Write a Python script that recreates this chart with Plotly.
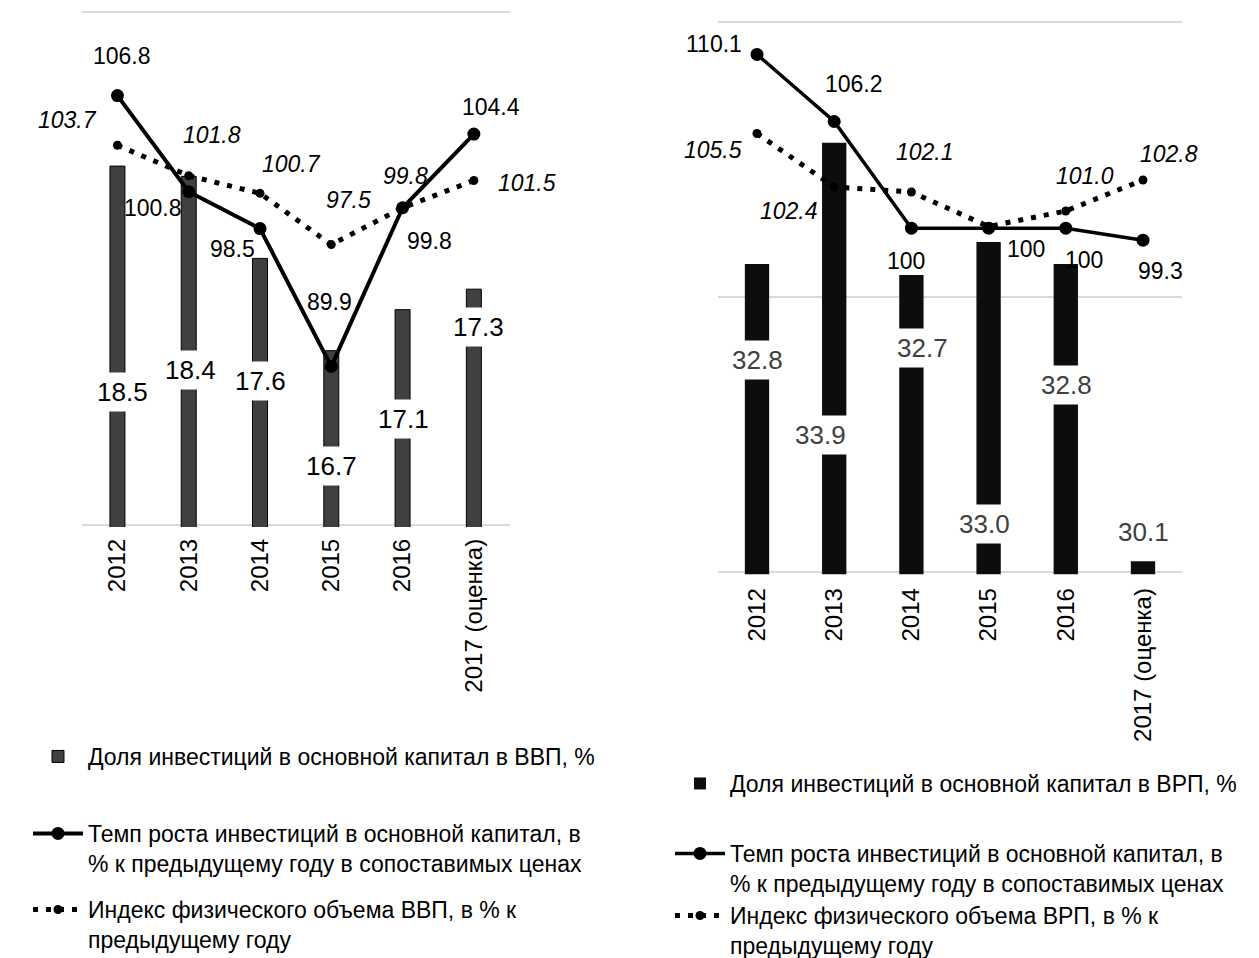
import plotly.graph_objects as go

# ---------------- data ----------------
years = ["2012", "2013", "2014", "2015", "2016", "2017 (оценка)"]

# left panel (Russia)
share_gdp = [18.5, 18.4, 17.6, 16.7, 17.1, 17.3]
inv_growth_rf = [106.8, 100.8, 98.5, 89.9, 99.8, 104.4]
gdp_index = [103.7, 101.8, 100.7, 97.5, 99.8, 101.5]

# right panel (region)
share_grp = [32.8, 33.9, 32.7, 33.0, 32.8, 30.1]
inv_growth_reg = [110.1, 106.2, 100, 100, 100, 99.3]
grp_index = [105.5, 102.4, 102.1, 100.1, 101.0, 102.8]
grp_index_labels = ["105.5", "102.4", "102.1", None, "101.0", "102.8"]

name_bar_l = "Доля инвестиций в основной капитал в ВВП, %"
name_bar_r = "Доля инвестиций в основной капитал в ВРП, %"
name_inv = "Темп роста инвестиций в основной капитал, в<br>% к предыдущему году в сопоставимых ценах"
name_idx_l = "Индекс физического объема ВВП, в % к<br>предыдущему году"
name_idx_r = "Индекс физического объема ВРП, в % к<br>предыдущему году"

# ---------------- label placement (style, px offsets) ----------------
inv_l_off = [(5, -40), (-36, 16), (-28, 20), (-2, -64), (27, 33), (17, -27)]
idx_l_off = [(-50, -25), (23, -41), (31, -29), (17, -45), (3, -32), (53, 2)]
bar_l_lab_y = [16.30, 16.51, 16.40, 15.575, 16.03, 16.93]
bar_l_lab_dx = [5, 2, 0, 0, 1, 5]

inv_r_off = [(-43, -10), (20, -37), (-5, 33), (37, 21), (18, 32), (17, 31)]
idx_r_off = [(-44, 16), (-45, 24), (14, -40), (0, 0), (19, -35), (26, -26)]
bar_r_lab_y = [31.93, 31.25, 32.04, 30.44, 31.70, 30.37]
bar_r_lab_dx = [0, -14, 11, -4, 1, 0]

W, H = 1259, 958
FONT = "Liberation Sans, Arial, sans-serif"
PAD = 2  # px of headroom so edge gridlines are drawn

# panel geometry in px (left, right, top, bottom)
L_BOX = (81.8, 509.5, 12.3, 525.0)
R_BOX = (718.4, 1181.6, 21.7, 572.3)


def padded(lo, hi, box):
    per_px = (hi - lo) / (box[3] - box[2])
    return [lo - PAD * per_px, hi + PAD * per_px]


def xdom(box):
    return [box[0] / W, box[1] / W]


def ydom(box):
    return [1 - (box[3] + PAD) / H, 1 - (box[2] - PAD) / H]


fig = go.Figure()

# ---------------- left panel ----------------
fig.add_trace(go.Bar(
    x=years, y=share_gdp, name=name_bar_l, width=0.21,
    marker=dict(color="#404040", line=dict(color="#000000", width=1)),
    xaxis="x", yaxis="y", legend="legend",
))
fig.add_trace(go.Scatter(
    x=years, y=gdp_index, name=name_idx_l, mode="lines+markers",
    line=dict(color="black", width=5, dash="5px,8px"),
    marker=dict(color="black", size=9),
    xaxis="x", yaxis="y2", legend="legend3",
))
fig.add_trace(go.Scatter(
    x=years, y=inv_growth_rf, name=name_inv, mode="lines+markers",
    line=dict(color="black", width=4),
    marker=dict(color="black", size=13),
    xaxis="x", yaxis="y2", legend="legend2",
))

# ---------------- right panel ----------------
fig.add_trace(go.Bar(
    x=years, y=share_grp, name=name_bar_r, width=0.315,
    marker=dict(color="#0d0d0d", line=dict(width=0)),
    xaxis="x2", yaxis="y3", legend="legend4",
))
fig.add_trace(go.Scatter(
    x=years, y=grp_index, name=name_idx_r, mode="lines+markers",
    line=dict(color="black", width=5, dash="5px,8px"),
    marker=dict(color="black", size=9),
    xaxis="x2", yaxis="y4", legend="legend6",
))
fig.add_trace(go.Scatter(
    x=years, y=inv_growth_reg, name=name_inv, mode="lines+markers",
    line=dict(color="black", width=3.5),
    marker=dict(color="black", size=13),
    xaxis="x2", yaxis="y4", legend="legend5",
))

ann = []


def lab(xref, yref, x, y, text, dx, dy, size, italic=False, color="black", bg=None, pad=1):
    d = dict(xref=xref, yref=yref, x=x, y=y, text=text, showarrow=False,
             xshift=dx, yshift=-dy, xanchor="center", yanchor="middle",
             font=dict(family=FONT, size=size, color=color,
                       style="italic" if italic else "normal"),
             borderpad=pad)
    if bg:
        d["bgcolor"] = bg
    ann.append(d)


for i in range(len(years)):
    # left
    lab("x", "y2", i, inv_growth_rf[i], f"{inv_growth_rf[i]:.1f}", *inv_l_off[i], 23)
    lab("x", "y2", i, gdp_index[i], f"{gdp_index[i]:.1f}", *idx_l_off[i], 23, italic=True)
    lab("x", "y", i, bar_l_lab_y[i], f"{share_gdp[i]:.1f}", bar_l_lab_dx[i], 0, 26,
        bg="white", pad=4)
    # right
    v = inv_growth_reg[i]
    lab("x2", "y4", i, v, f"{v:g}" if v == int(v) else f"{v:.1f}", *inv_r_off[i], 23)
    if grp_index_labels[i]:
        lab("x2", "y4", i, grp_index[i], grp_index_labels[i], *idx_r_off[i], 23,
            italic=True, bg="white")
    lab("x2", "y3", i, bar_r_lab_y[i], f"{share_grp[i]:.1f}", bar_r_lab_dx[i], 0, 26,
        color="#404040", bg="white", pad=4)

grid = dict(showgrid=True, gridcolor="#d9d9d9", gridwidth=1.5, zeroline=False,
            showticklabels=False, ticks="", showline=False, fixedrange=True)
xax = dict(type="category", range=[-0.5, 5.5], autorange=False, showgrid=False,
           zeroline=False, showline=False, ticks="", tickangle=-90,
           tickfont=dict(family=FONT, size=24, color="black"))

leg_common = dict(bgcolor="rgba(0,0,0,0)", borderwidth=0, xanchor="left", yanchor="top",
                  itemwidth=50, valign="top", traceorder="normal",
                  font=dict(family=FONT, size=23, color="black"),
                  itemclick=False, itemdoubleclick=False)


def py(p):
    return 1 - p / H


fig.update_layout(
    width=W, height=H, margin=dict(l=0, r=0, t=0, b=0, autoexpand=False),
    paper_bgcolor="white", plot_bgcolor="white",
    showlegend=True, annotations=ann,
    xaxis=dict(domain=xdom(L_BOX), anchor="y", ticklabelstandoff=6, **xax),
    yaxis=dict(domain=ydom(L_BOX), range=padded(15, 20, L_BOX), tickvals=[15, 20],
               anchor="x", **grid),
    yaxis2=dict(range=padded(80, 112, L_BOX), overlaying="y", anchor="x", visible=False),
    xaxis2=dict(domain=xdom(R_BOX), anchor="y3", ticklabelstandoff=8, **xax),
    yaxis3=dict(domain=ydom(R_BOX), range=padded(30, 35, R_BOX),
                tickvals=[30, 32.5, 35], anchor="x2", **grid),
    yaxis4=dict(range=padded(80, 112, R_BOX), overlaying="y3", anchor="x2", visible=False),
    legend=dict(x=28 / W, y=py(735), **leg_common),
    legend2=dict(x=28 / W, y=py(812), **leg_common),
    legend3=dict(x=28 / W, y=py(888), **leg_common),
    legend4=dict(x=670 / W, y=py(762), **leg_common),
    legend5=dict(x=670 / W, y=py(832), **leg_common),
    legend6=dict(x=670 / W, y=py(894), **leg_common),
)

fig.write_html(
    "out.html",
    config={"displayModeBar": False, "staticPlot": False},
    post_script="document.body.style.margin='0';document.body.style.overflow='hidden';",
)
